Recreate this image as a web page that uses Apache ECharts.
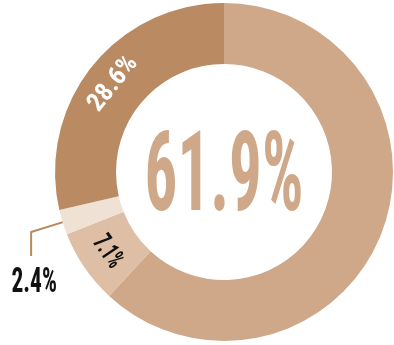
<!DOCTYPE html>
<html><head><meta charset="utf-8">
<script src="https://cdn.jsdelivr.net/npm/echarts@6/dist/echarts.min.js"></script>
<style>html,body{margin:0;padding:0;background:#fff}#c{width:394px;height:345px}</style>
</head><body><div id="c"></div>
<script>
const categories = ['Segment A', 'Segment B', 'Segment C', 'Segment D'];
const values = [61.9, 7.1, 2.4, 28.6];
const colors = ['#CFA889', '#DEBFA5', '#F0E1D5', '#BA8B63'];
const labelColors = ['#CFA889', '#111111', '#111111', '#ffffff'];
const labelSizes = [112, 27, 35, 26];
const labelStretch = [0.58, 0.64, 0.67, 0.68];

const FONT = '"Roboto Condensed", "Open Sans", sans-serif';
const chart = echarts.init(document.getElementById('c'), null, {renderer: 'canvas'});
const CENTER = [224, 172];

const data = categories.map((n, i) => {
  const d = {name: n, value: values[i], itemStyle: {color: colors[i]}};
  const lbl = {color: labelColors[i], fontSize: labelSizes[i], fontWeight: 'bold', fontFamily: FONT};
  if (i === 0) d.label = {show: false};
  if (i === 1 || i === 3) d.label = Object.assign({show: true, position: 'inside', rotate: 'tangential'}, lbl);
  if (i === 2) {
    d.label = Object.assign({show: true, position: 'outside'}, lbl);
    d.labelLine = {show: true, length: 33, length2: 0, lineStyle: {color: '#B98A60', width: 2}};
  }
  return d;
});

chart.setOption({
  animation: false,
  graphic: [{
    type: 'text',
    x: CENTER[0], y: CENTER[1] + 10,
    scaleX: labelStretch[0],
    z: 10,
    style: {
      text: values[0] + '%',
      fill: labelColors[0],
      font: 'bold ' + labelSizes[0] + 'px ' + FONT,
      align: 'center',
      verticalAlign: 'middle'
    }
  }],
  series: [{
    type: 'pie',
    center: CENTER,
    radius: [108, 169],
    startAngle: 90,
    clockwise: true,
    silent: true,
    avoidLabelOverlap: false,
    itemStyle: {borderWidth: 0},
    label: {show: false, formatter: '{c}%'},
    labelLine: {show: false},
    labelLayout: function (p) {
      if (p.dataIndex !== 2 || !p.labelLinePoints) return;
      const pts = p.labelLinePoints;
      const a = pts[0], b = pts[1];
      const dx = b[0] - a[0], dy = b[1] - a[1];
      const L = Math.sqrt(dx * dx + dy * dy) || 1;
      const s = [a[0] - dx / L * 18, a[1] - dy / L * 18];
      const c = [b[0], b[1] + 24];
      return {
        x: b[0] + 3, y: b[1] + 34,
        align: 'center', verticalAlign: 'top',
        labelLinePoints: [s, b, c]
      };
    },
    data: data
  }]
});

// condense the slice labels horizontally (the reference uses a very narrow typeface)
const stretchByText = {};
values.forEach((v, i) => { stretchByText[v + '%'] = labelStretch[i]; });
chart.getZr().storage.getRoots().forEach(root => {
  const visit = el => {
    const tc = el.getTextContent && el.getTextContent();
    if (tc && tc.style && stretchByText[tc.style.text] && tc.scaleX === 1) {
      tc.scaleX = stretchByText[tc.style.text];
      tc.markRedraw();
    }
  };
  visit(root);
  if (root.traverse) root.traverse(visit);
});
chart.getZr().refresh();
</script></body></html>
